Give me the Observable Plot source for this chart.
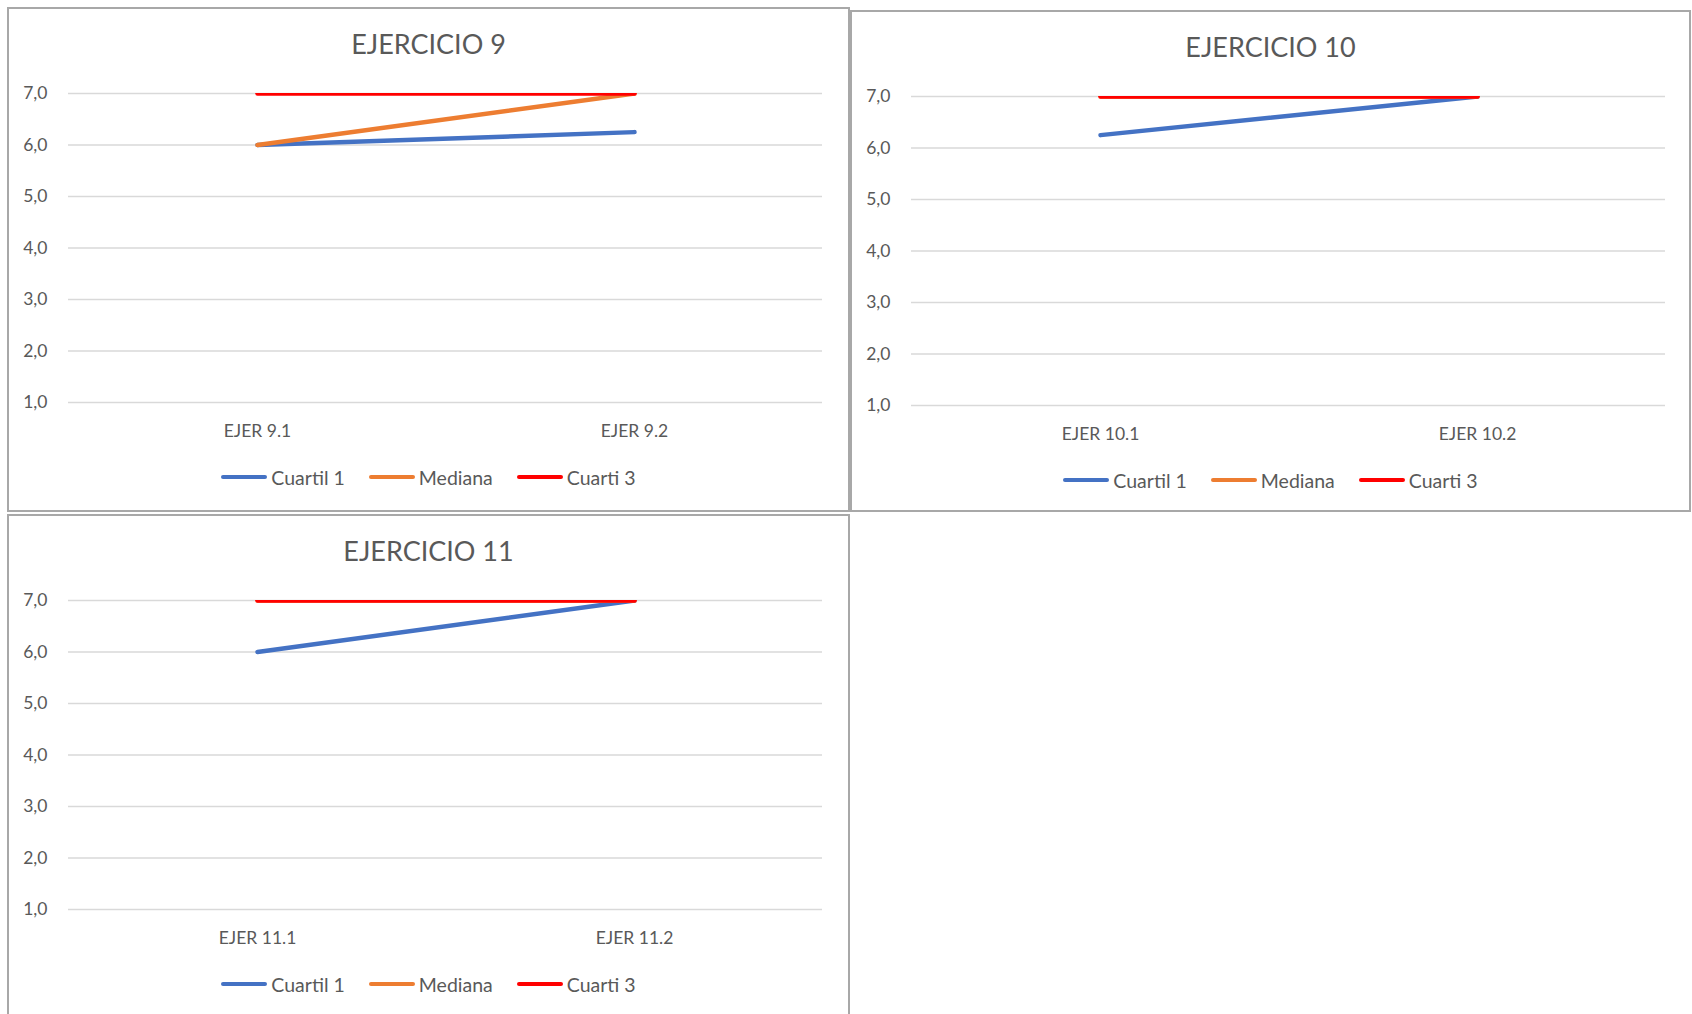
<!DOCTYPE html>
<html>
<head>
<meta charset="utf-8">
<script src="https://cdn.jsdelivr.net/npm/d3@7"></script>
<script src="https://cdn.jsdelivr.net/npm/@observablehq/plot@0.6"></script>
<style>
  html, body { margin: 0; padding: 0; background: #ffffff; }
  body { width: 1692px; height: 1014px; position: relative; overflow: hidden; font-family: Lato, "Open Sans", sans-serif; }
  .panel { position: absolute; box-sizing: border-box; border: 2px solid #a8a8a8; background: #fff; overflow: hidden; }
  .title { position: absolute; left: 0; right: 0; top: 18px; height: 34px; line-height: 34px; text-align: center; font-size: 27px; color: #595959; }
  .chart { position: absolute; left: 0; top: 60px; }
  .legend { position: absolute; left: 0; right: 0; height: 52px; display: flex; justify-content: center; align-items: center; gap: 24px; font-size: 19.5px; color: #595959; }
  .item { display: flex; align-items: center; gap: 4px; }
  .swatch { width: 46px; height: 4px; border-radius: 2px; }
</style>
</head>
<body>
<script>
// Series shown in every panel, with their colours
const seriesNames = ["Cuartil 1", "Mediana", "Cuarti 3"];
const seriesColors = ["#4472C4", "#ED7D31", "#FF0000"];

// Y axis ticks
const yTicks = [1, 2, 3, 4, 5, 6, 7];

// EJERCICIO 9
const ej9Labels = ["EJER 9.1", "EJER 9.2"];
const ej9Cuartil1 = [6.0, 6.25];
const ej9Mediana = [6.0, 7.0];
const ej9Cuarti3 = [7.0, 7.0];

// EJERCICIO 10
const ej10Labels = ["EJER 10.1", "EJER 10.2"];
const ej10Cuartil1 = [6.25, 7.0];
const ej10Mediana = [7.0, 7.0];
const ej10Cuarti3 = [7.0, 7.0];

// EJERCICIO 11
const ej11Labels = ["EJER 11.1", "EJER 11.2"];
const ej11Cuartil1 = [6.0, 7.0];
const ej11Mediana = [7.0, 7.0];
const ej11Cuarti3 = [7.0, 7.0];

const panels = [
  {title: "EJERCICIO 9", labels: ej9Labels, values: [ej9Cuartil1, ej9Mediana, ej9Cuarti3], left: 7, top: 7, width: 843, height: 505},
  {title: "EJERCICIO 10", labels: ej10Labels, values: [ej10Cuartil1, ej10Mediana, ej10Cuarti3], left: 850, top: 10, width: 841, height: 502},
  {title: "EJERCICIO 11", labels: ej11Labels, values: [ej11Cuartil1, ej11Mediana, ej11Cuarti3], left: 7, top: 514, width: 843, height: 520}
];

const fmt = d => d.toFixed(1).replace(".", ",");

for (const p of panels) {
  const panel = document.createElement("div");
  panel.className = "panel";
  Object.assign(panel.style, {left: p.left + "px", top: p.top + "px", width: p.width + "px", height: p.height + "px"});
  document.body.appendChild(panel);

  const title = document.createElement("div");
  title.className = "title";
  title.textContent = p.title;
  panel.appendChild(title);

  const innerWidth = p.width - 4;
  const rows = [];
  p.values.forEach((vals, si) => vals.forEach((v, i) => rows.push({serie: seriesNames[si], label: p.labels[i], value: v})));

  const chart = Plot.plot({
    width: innerWidth,
    height: 383,
    marginLeft: 59,
    marginRight: innerWidth - 813,
    marginTop: 24,
    marginBottom: 50,
    style: {fontFamily: "Lato, 'Open Sans', sans-serif", fontSize: "17.5px", color: "#595959", background: "transparent"},
    x: {type: "point", domain: p.labels, padding: 0.5},
    y: {domain: [1, 7]},
    color: {domain: seriesNames, range: seriesColors},
    marks: [
      Plot.ruleY(yTicks, {stroke: "#d9d9d9", strokeWidth: 1.6}),
      Plot.axisY(yTicks, {tickSize: 0, tickPadding: 21, tickFormat: fmt, label: null}),
      Plot.axisX({tickSize: 0, tickPadding: 22, label: null}),
      ...seriesNames.map(s => Plot.line(rows.filter(r => r.serie === s), {
        x: "label", y: "value", stroke: "serie", strokeWidth: 4.5, strokeLinecap: "round", clip: true
      }))
    ]
  });
  chart.classList.add("chart");
  panel.appendChild(chart);

  const legend = document.createElement("div");
  legend.className = "legend";
  legend.style.top = (60 + 382) + "px";
  seriesNames.forEach((s, i) => {
    const item = document.createElement("div");
    item.className = "item";
    const sw = document.createElement("span");
    sw.className = "swatch";
    sw.style.background = seriesColors[i];
    const tx = document.createElement("span");
    tx.textContent = s;
    item.appendChild(sw);
    item.appendChild(tx);
    legend.appendChild(item);
  });
  panel.appendChild(legend);
}
</script>
</body>
</html>
